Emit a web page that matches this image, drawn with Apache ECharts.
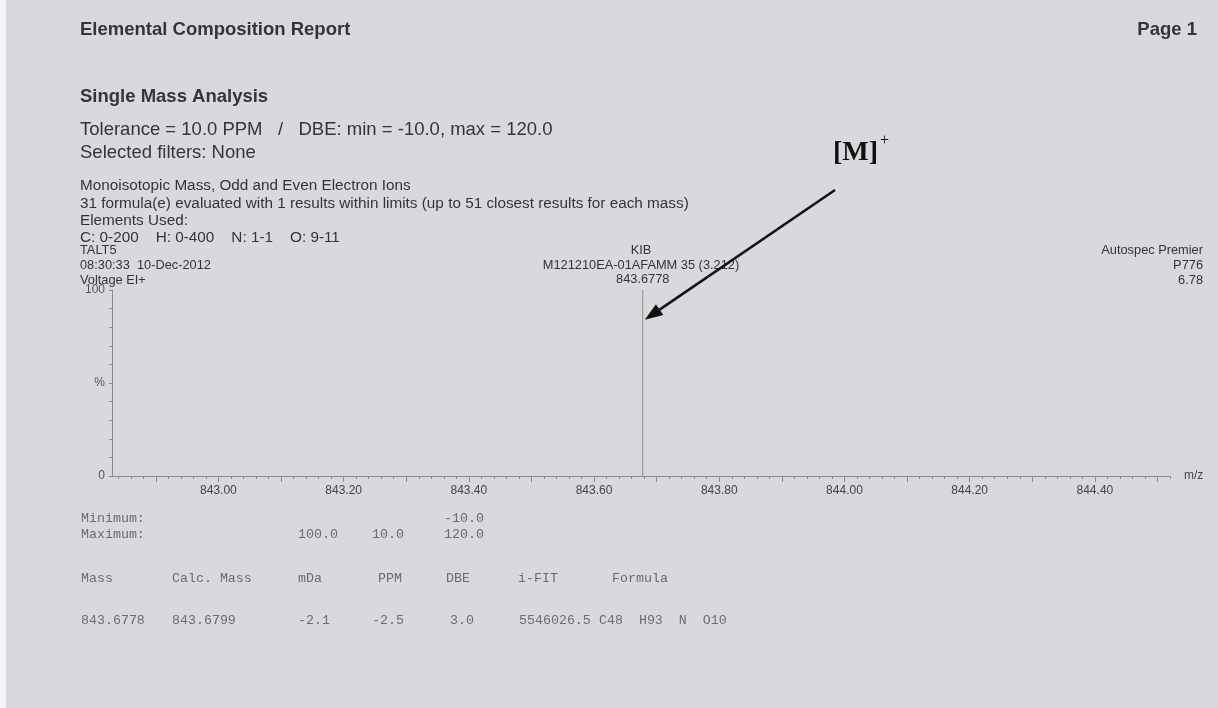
<!DOCTYPE html>
<html>
<head>
<meta charset="utf-8">
<title>Elemental Composition Report</title>
<script src="https://cdn.jsdelivr.net/npm/echarts@6/dist/echarts.min.js"></script>
<style>
  html, body { margin: 0; padding: 0; background: #d9d9db; }
  #chart { width: 1218px; height: 708px; }
</style>
</head>
<body>
<div id="chart"></div>
<script>
// Spectrum peak (m/z, relative intensity %)
const peakMz = [843.6778];
const peakIntensity = [100];

// Axis labels
const xTickLabels = [843.00, 843.20, 843.40, 843.60, 843.80, 844.00, 844.20, 844.40];
const yTickLabels = { 0: '0', 50: '%', 100: '100' };

// Result table
const limitMinimum = ['Minimum:', '', '', '', '-10.0'];
const limitMaximum = ['Maximum:', '', '100.0', '10.0', '120.0'];
const tableHeader = ['Mass', 'Calc. Mass', 'mDa', 'PPM', 'DBE', 'i-FIT', 'Formula'];
const tableRow = ['843.6778', '843.6799', '-2.1', '-2.5', '3.0', '5546026.5', 'C48  H93  N  O10'];

const X_MIN = 842.83, X_MAX = 844.52;
const minorTicks = [], majorTicks = [];
for (let i = 0; i <= 84; i++) minorTicks.push(+(842.84 + i * 0.02).toFixed(2));
for (let i = 0; i <= 16; i++) majorTicks.push(+(842.90 + i * 0.1).toFixed(1));

const INK = '#353535';
const SANS = '"Liberation Sans", Arial, sans-serif';
const MONO = '"Liberation Mono", "DejaVu Sans Mono", monospace';
const SERIF = '"Liberation Serif", "DejaVu Serif", serif';

function txt(x, y, text, size, opts) {
  opts = opts || {};
  return {
    type: 'text', x: x, y: y, silent: true,
    style: {
      text: text,
      font: (opts.bold ? 'bold ' : '') + size + 'px ' + (opts.family || SANS),
      fill: opts.color || INK,
      textAlign: opts.align || 'left',
      textVerticalAlign: 'middle'
    }
  };
}

const tableEls = [];
function addRow(cells, y, cols) {
  cells.forEach((c, i) => { if (c) tableEls.push(txt(cols[i], y, c, 13.3, { family: MONO, color: '#6c6c6c' })); });
}
addRow(limitMinimum, 518, [81, 172, 298, 372, 444]);
addRow(limitMaximum, 534, [81, 172, 298, 372, 444]);
addRow(tableHeader, 578, [81, 172, 298, 378, 446, 518, 612]);
addRow(tableRow, 620, [81, 172, 298, 372, 450, 519, 599]);

const chart = echarts.init(document.getElementById('chart'), null, { renderer: 'canvas' });

const option = {
  backgroundColor: '#d9d9db',
  animation: false,
  grid: { left: 112, right: 48, top: 290, bottom: 232 },
  xAxis: [{
    type: 'value', min: X_MIN, max: X_MAX,
    name: 'm/z', nameLocation: 'end', nameGap: 14,
    nameTextStyle: { color: '#444', fontSize: 12, fontFamily: SANS, verticalAlign: 'middle' },
    axisLine: { lineStyle: { color: '#8c8c8c', width: 1 } },
    axisTick: { show: true, customValues: minorTicks, length: 3, lineStyle: { color: '#8c8c8c' } },
    axisLabel: {
      customValues: xTickLabels, margin: 9,
      formatter: v => v.toFixed(2),
      color: '#444', fontSize: 12, fontFamily: SANS
    },
    splitLine: { show: false }
  }, {
    type: 'value', min: X_MIN, max: X_MAX, position: 'bottom',
    axisLine: { show: false },
    axisTick: { show: true, customValues: majorTicks, length: 6, lineStyle: { color: '#8c8c8c' } },
    axisLabel: { show: false },
    splitLine: { show: false }
  }],
  yAxis: {
    type: 'value', min: 0, max: 100,
    axisLine: { show: true, lineStyle: { color: '#8c8c8c', width: 1 } },
    axisTick: { show: true, customValues: [0, 10, 20, 30, 40, 50, 60, 70, 80, 90, 100], length: 3, lineStyle: { color: '#8c8c8c' } },
    axisLabel: {
      customValues: [0, 50, 100], margin: 7,
      formatter: v => yTickLabels[v],
      color: '#555', fontSize: 12, fontFamily: SANS
    },
    splitLine: { show: false }
  },
  series: [{
    type: 'bar',
    barWidth: 1,
    itemStyle: { color: '#8b8b96' },
    label: {
      show: true, position: 'top', distance: 4,
      formatter: p => p.value[0].toFixed(4),
      color: INK, fontSize: 12.8, fontFamily: SANS
    },
    data: peakMz.map((m, i) => [m, peakIntensity[i]])
  }]
};
chart.setOption(option);

// Arrow pointing at the molecular ion peak
const tip = chart.convertToPixel({ gridIndex: 0 }, [peakMz[0], 84]);
const tipX = tip[0] + 2, tipY = tip[1];
const startX = 835, startY = 190;
const ang = Math.atan2(tipY - startY, tipX - startX);
const headLen = 18, headHalf = 6.5;
const bx = tipX - headLen * Math.cos(ang), by = tipY - headLen * Math.sin(ang);
const nx = -Math.sin(ang), ny = Math.cos(ang);

chart.setOption({
  graphic: [
    { type: 'rect', shape: { x: 0, y: 0, width: 6, height: 708 }, style: { fill: '#f3f3f3' }, silent: true },
    txt(80, 30, 'Elemental Composition Report', 18.5, { bold: true }),
    txt(1197, 30, 'Page 1', 18.5, { bold: true, align: 'right' }),
    txt(80, 97, 'Single Mass Analysis', 18.5, { bold: true }),
    txt(80, 130, 'Tolerance = 10.0 PPM   /   DBE: min = -10.0, max = 120.0', 18.5),
    txt(80, 153, 'Selected filters: None', 18.5),
    txt(80, 186, 'Monoisotopic Mass, Odd and Even Electron Ions', 15.3),
    txt(80, 204, '31 formula(e) evaluated with 1 results within limits (up to 51 closest results for each mass)', 15.3),
    txt(80, 221, 'Elements Used:', 15.3),
    txt(80, 238, 'C: 0-200    H: 0-400    N: 1-1    O: 9-11', 15.3),
    txt(80, 250, 'TALT5', 12.8),
    txt(80, 265, '08:30:33  10-Dec-2012', 12.8),
    txt(80, 280, 'Voltage EI+', 12.8),
    txt(641, 250, 'KIB', 12.8, { align: 'center' }),
    txt(641, 265, 'M121210EA-01AFAMM 35 (3.212)', 12.8, { align: 'center' }),
    txt(1203, 250, 'Autospec Premier', 12.8, { align: 'right' }),
    txt(1203, 265, 'P776', 12.8, { align: 'right' }),
    txt(1203, 280, '6.78', 12.8, { align: 'right' }),
    txt(833, 153, '[M]', 28, { bold: true, family: SERIF, color: '#111' }),
    txt(880, 141, '+', 16, { family: SERIF, color: '#111' }),
    { type: 'line', silent: true, shape: { x1: startX, y1: startY, x2: bx, y2: by }, style: { stroke: '#111', lineWidth: 2.5 } },
    { type: 'polygon', silent: true,
      shape: { points: [[tipX, tipY], [bx + nx * headHalf, by + ny * headHalf], [bx - nx * headHalf, by - ny * headHalf]] },
      style: { fill: '#111' } }
  ].concat(tableEls)
});
</script>
</body>
</html>
